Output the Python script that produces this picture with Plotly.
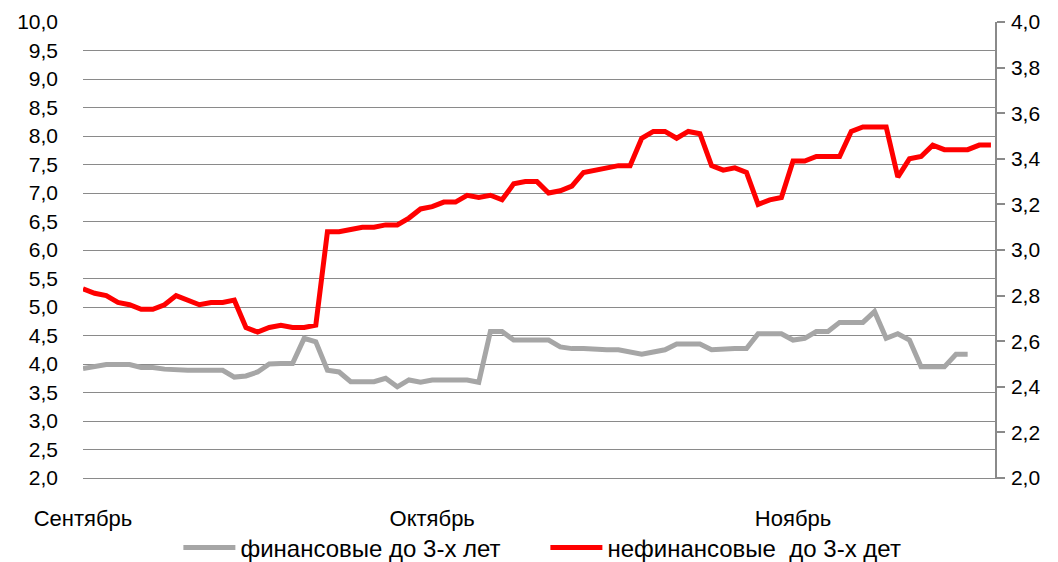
import plotly.graph_objects as go

# day index from 1 Sept (0) to 18/19 Nov
month_labels = ["Сентябрь", "Октябрь", "Ноябрь"]
month_start_day = [0, 30, 61]

# финансовые до 3-х лет (left axis), one value per calendar day
fin = [3.92, 3.95, 3.99, 3.99, 3.99, 3.94, 3.94, 3.91, 3.89, 3.89,
       3.89, 3.89, 3.89, 3.77, 3.79, 3.86, 4.00, 4.01, 4.01, 4.45,
       4.39, 3.89, 3.86, 3.69, 3.69, 3.69, 3.75, 3.60, 3.72, 3.68,
       3.72, 3.72, 3.72, 3.72, 3.68, 4.57, 4.57, 4.42, 4.42, 4.42,
       4.42, 4.30, 4.27, 4.27, 4.25, 4.25, 4.25, 4.21, 4.17, 4.21,
       4.25, 4.35, 4.35, 4.35, 4.25, 4.27, 4.27, 4.27, 4.53, 4.53,
       4.53, 4.42, 4.45, 4.57, 4.57, 4.73, 4.73, 4.73, 4.92, 4.45,
       4.53, 4.42, 3.95, 3.95, 3.95, 4.17, 4.17]

# нефинансовые до 3-х лет (right axis)
nonfin = [2.83, 2.81, 2.80, 2.77, 2.76, 2.74, 2.74, 2.76, 2.80, 2.78,
          2.76, 2.77, 2.77, 2.78, 2.66, 2.64, 2.66, 2.67, 2.66, 2.66,
          2.67, 3.08, 3.08, 3.09, 3.10, 3.10, 3.11, 3.11, 3.14, 3.18,
          3.19, 3.21, 3.21, 3.24, 3.23, 3.24, 3.22, 3.29, 3.30, 3.30,
          3.25, 3.26, 3.28, 3.34, 3.35, 3.36, 3.37, 3.37, 3.49, 3.52,
          3.52, 3.49, 3.52, 3.51, 3.37, 3.35, 3.36, 3.34, 3.20, 3.22,
          3.23, 3.39, 3.39, 3.41, 3.41, 3.41, 3.52, 3.54, 3.54, 3.54,
          3.32, 3.40, 3.41, 3.46, 3.44, 3.44, 3.44, 3.46, 3.46]

series_names = ["финансовые до 3-х лет", "нефинансовые  до 3-х дет"]
left_ticks = [2.0 + 0.5 * k for k in range(17)]
right_ticks = [2.0 + 0.2 * k for k in range(11)]

FONT = "Liberation Sans"
GRID = "#8a8a8a"

fig = go.Figure()
fig.add_trace(go.Scatter(
    x=list(range(len(fin))), y=fin, mode="lines", name=series_names[0],
    line=dict(color="#a6a6a6", width=5), yaxis="y"))
fig.add_trace(go.Scatter(
    x=list(range(len(nonfin))), y=nonfin, mode="lines", name=series_names[1],
    line=dict(color="#ff0000", width=5), yaxis="y2"))

fig.update_layout(
    width=1050, height=554,
    margin=dict(l=75, r=63, t=14, b=84, autoexpand=False),
    paper_bgcolor="white", plot_bgcolor="white",
    separators=", ",
    font=dict(family=FONT, size=21, color="#000000"),
    showlegend=True,
    legend=dict(orientation="h", x=0.507, xanchor="center", y=-0.1535,
                yanchor="middle", font=dict(size=24), itemwidth=52,
                entrywidth=300, bgcolor="rgba(0,0,0,0)"),
    xaxis=dict(range=[0, 78.35], tickmode="array", tickvals=month_start_day,
               ticktext=month_labels, showgrid=False, zeroline=False,
               showline=True, linecolor=GRID, linewidth=1.3,
               ticks="", ticklabelstandoff=20,
               tickfont=dict(size=22)),
    yaxis=dict(range=[2, 10], tickmode="array", tickvals=left_ticks,
               tickformat=".1f", showgrid=True, gridcolor=GRID, gridwidth=1.3,
               zeroline=False, showline=False, ticks="",
               ticklabelstandoff=24),
    yaxis2=dict(range=[2, 4], tickmode="array", tickvals=right_ticks,
                tickformat=".1f", overlaying="y", side="right",
                showgrid=False, zeroline=False, showline=True,
                linecolor=GRID, linewidth=1.5, ticks="outside", ticklen=8,
                tickcolor=GRID, tickwidth=1.5, ticklabelstandoff=2),
)

fig.write_html("out.html")
